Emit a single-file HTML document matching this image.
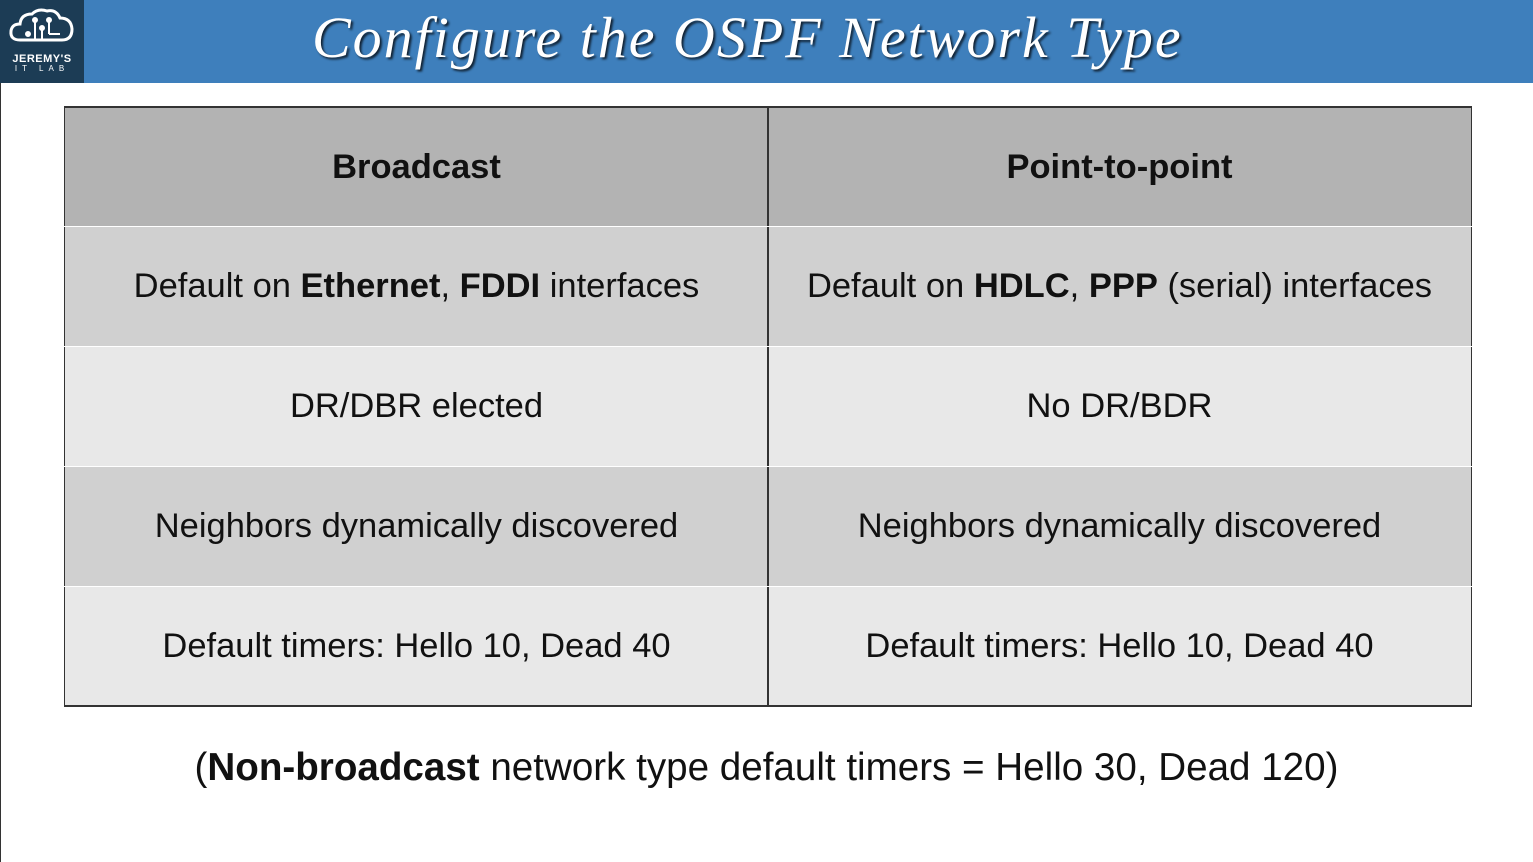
<!DOCTYPE html>
<html><head><meta charset="utf-8"><style>
*{margin:0;padding:0;box-sizing:border-box}
body{width:1533px;height:862px;background:#fff;position:relative;overflow:hidden;font-family:"Liberation Sans",sans-serif}
#lb{position:absolute;left:0;top:83px;width:1px;height:779px;background:#333}
#hdr{position:absolute;left:0;top:0;width:1533px;height:83px;background:#3e7fbc}
#logo{position:absolute;left:0;top:0;width:84px;height:83px;background:#1c3c55;color:#fff;text-align:center}
#title{position:absolute;left:312px;top:4px;font-family:"Liberation Serif",serif;font-style:italic;font-size:58px;color:#fff;letter-spacing:2px;text-shadow:2px 2px 2px #123;white-space:nowrap}
.row{position:absolute;left:64px;width:1408px;height:120px;border-left:1px solid #333;border-right:1px solid #333}
.c{position:absolute;top:0;height:100%;width:703px;display:flex;align-items:center;justify-content:center;font-size:34.5px;color:#111;white-space:nowrap}
.l{left:0}.r{left:702px;border-left:2px solid #333}
</style></head><body>
<div id="lb"></div>
<div id="hdr"></div>
<div id="logo">
<svg width="84" height="50" viewBox="0 0 84 50"><path d="M20 40 Q10 40 11 31 Q12 24 20 24 Q21 14 32 14 Q38 8 47 11 Q56 9 60 18 Q71 18 72 29 Q72 40 62 40 Z" fill="none" stroke="#fff" stroke-width="3"/><g stroke="#fff" stroke-width="2" fill="#fff"><line x1="35" y1="40" x2="35" y2="20"/><line x1="42" y1="40" x2="42" y2="28"/><line x1="49" y1="20" x2="49" y2="34"/><line x1="49" y1="34" x2="60" y2="34"/><circle cx="35" cy="20" r="2"/><circle cx="42" cy="28" r="2"/><circle cx="49" cy="20" r="2"/><circle cx="28" cy="34" r="2"/></g></svg>
<div style="font-size:11px;font-weight:bold;margin-top:-2px;letter-spacing:0.5px">JEREMY'S</div>
<div style="font-size:8px;letter-spacing:5px;margin-top:-1px">IT LAB</div>
</div>
<div id="title">Configure the OSPF Network Type</div>

<div class="row" style="top:106px;background:#b3b3b3;border-top:2px solid #333"><div class="c l" style="font-weight:bold">Broadcast</div><div class="c r" style="font-weight:bold">Point-to-point</div></div>
<div class="row" style="top:227px;height:119px;background:#d0d0d0"><div class="c l"><span>Default on <b>Ethernet</b>, <b>FDDI</b> interfaces</span></div><div class="c r"><span>Default on <b>HDLC</b>, <b>PPP</b> (serial) interfaces</span></div></div>
<div class="row" style="top:347px;height:119px;background:#e8e8e8"><div class="c l">DR/DBR elected</div><div class="c r">No DR/BDR</div></div>
<div class="row" style="top:467px;height:119px;background:#d0d0d0"><div class="c l">Neighbors dynamically discovered</div><div class="c r">Neighbors dynamically discovered</div></div>
<div class="row" style="top:587px;height:120px;background:#e8e8e8;border-bottom:2px solid #333"><div class="c l">Default timers: Hello 10, Dead 40</div><div class="c r">Default timers: Hello 10, Dead 40</div></div>

<div style="position:absolute;left:0;width:1533px;top:746px;text-align:center;font-size:38.6px;color:#111;white-space:nowrap">(<b>Non-broadcast</b> network type default timers = Hello 30, Dead 120)</div>
</body></html>
